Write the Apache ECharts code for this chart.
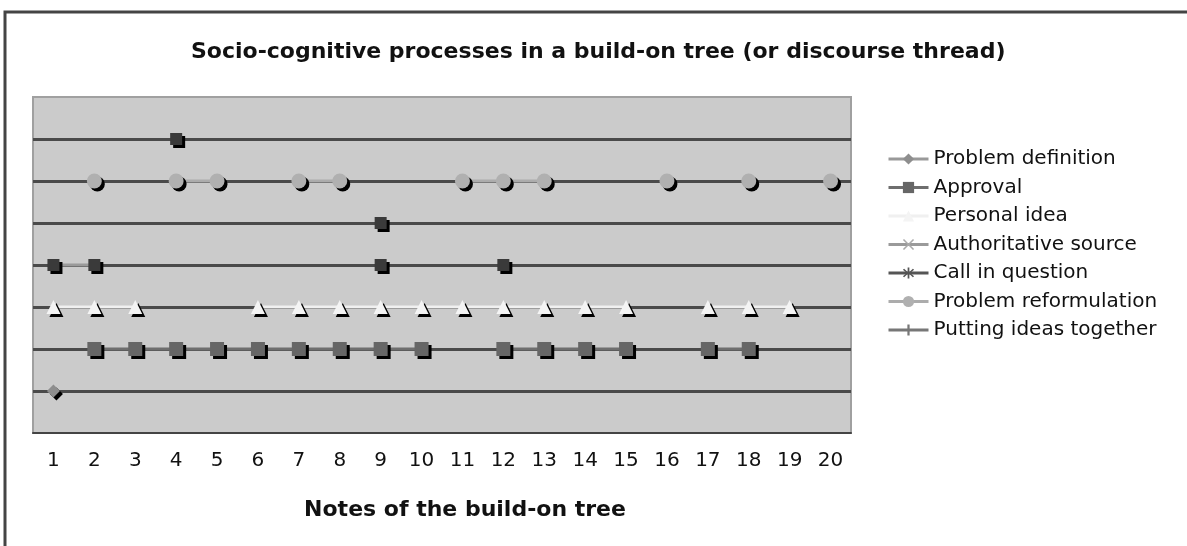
<!DOCTYPE html>
<html>
<head>
<meta charset="utf-8">
<script src="https://cdn.jsdelivr.net/npm/echarts@6/dist/echarts.min.js"></script>
<style>
  html, body { margin: 0; padding: 0; background: #fff; }
</style>
</head>
<body>
<div id="line-chart" style="width: 1187px; height: 546px"></div>
<script>
var notes = ['1', '2', '3', '4', '5', '6', '7', '8', '9', '10', '11', '12', '13', '14', '15', '16', '17', '18', '19', '20'];

// each process sits on its own level, null = not present in that note
var problemDefinition = [1, null, null, null, null, null, null, null, null, null, null, null, null, null, null, null, null, null, null, null];
var approval = [null, 2, 2, 2, 2, 2, 2, 2, 2, 2, null, 2, 2, 2, 2, null, 2, 2, null, null];
var personalIdea = [3, 3, 3, null, null, 3, 3, 3, 3, 3, 3, 3, 3, 3, 3, null, 3, 3, 3, null];
var authoritativeSource = [4, 4, null, null, null, null, null, null, 4, null, null, 4, null, null, null, null, null, null, null, null];
var callInQuestion = [null, null, null, null, null, null, null, null, 5, null, null, null, null, null, null, null, null, null, null, null];
var problemReformulation = [null, 6, null, 6, 6, null, 6, 6, null, null, 6, 6, 6, null, null, 6, null, 6, null, 6];
var puttingIdeasTogether = [null, null, null, 7, null, null, null, null, null, null, null, null, null, null, null, null, null, null, null, null];

var crossPath = 'path://M1,0L5,4L9,0L10,1L6,5L10,9L9,10L5,6L1,10L0,9L4,5L0,1Z';
var starPath = 'path://M4.3,0H5.7V4L8.5,1.2L9.5,2.2L6.4,5L9.5,7.8L8.5,8.8L5.7,6V10H4.3V6L1.5,8.8L0.5,7.8L3.6,5L0.5,2.2L1.5,1.2L4.3,4Z';
var plusPath = 'path://M4,0H6V4H10V6H6V10H4V6H0V4H4Z';

var shadow = { shadowColor: '#000', shadowBlur: 0, shadowOffsetX: 3, shadowOffsetY: 3 };

function darkPoints(arr) {
  return arr.map(function (v) {
    if (v === null) return null;
    return { value: v, symbol: 'rect', symbolSize: 12, itemStyle: Object.assign({ color: '#3a3a3a' }, shadow) };
  });
}

function makeSeries(name, data, symbol, size, color, lineColor) {
  return {
    name: name,
    type: 'line',
    data: data,
    symbol: symbol,
    symbolSize: size,
    showAllSymbol: true,
    connectNulls: false,
    lineStyle: { color: lineColor, width: 3 },
    itemStyle: Object.assign({ color: color }, shadow),
    emphasis: { disabled: true },
    z: 3
  };
}

var myChart = echarts.init(document.getElementById('line-chart'));

var option = {
  backgroundColor: '#fff',
  animation: false,
  title: {
    text: 'Socio-cognitive processes in a build-on tree (or discourse thread)',
    left: 186,
    top: 36,
    textStyle: { fontFamily: 'DejaVu Sans', fontSize: 22, fontWeight: 'bold', color: '#111' }
  },
  legend: {
    orient: 'vertical',
    left: 887,
    top: 149,
    padding: 0,
    itemWidth: 40,
    itemHeight: 14,
    itemGap: 8.5,
    selectedMode: false,
    lineStyle: { width: 3 },
    textStyle: { fontFamily: 'DejaVu Sans', fontSize: 20, color: '#111', lineHeight: 18 }
  },
  grid: {
    left: 33,
    right: 336,
    top: 97,
    bottom: 113,
    show: true,
    backgroundColor: '#cbcbcb',
    borderColor: '#a0a0a0',
    borderWidth: 2
  },
  xAxis: {
    type: 'category',
    data: notes,
    boundaryGap: true,
    name: 'Notes of the build-on tree',
    nameLocation: 'middle',
    nameGap: 66,
    nameTextStyle: { fontFamily: 'DejaVu Sans', fontSize: 22, fontWeight: 'bold', color: '#111', padding: [0, 0, 0, 46] },
    axisLine: { lineStyle: { color: '#444', width: 2 } },
    axisTick: { length: 7, lineStyle: { color: '#444', width: 2 } },
    axisLabel: { fontFamily: 'DejaVu Sans', fontSize: 20, color: '#111', margin: 18 },
    splitLine: { show: false }
  },
  yAxis: {
    type: 'value',
    min: 0,
    max: 8,
    interval: 1,
    axisLine: { show: false },
    axisTick: { show: false },
    axisLabel: { show: false },
    splitLine: {
      show: true,
      lineStyle: {
        width: 3,
        color: ['rgba(0,0,0,0)', '#4a4a4a', '#4a4a4a', '#4a4a4a', '#4a4a4a', '#4a4a4a', '#4a4a4a', '#4a4a4a', 'rgba(0,0,0,0)']
      }
    }
  },
  graphic: [
    {
      type: 'rect',
      shape: { x: 5, y: 12, width: 1200, height: 560 },
      style: { fill: 'none', stroke: '#444', lineWidth: 3 },
      silent: true
    }
  ],
  series: [
    makeSeries('Problem definition', problemDefinition, 'diamond', 13, '#8e8e8e', '#999'),
    makeSeries('Approval', approval, 'rect', 14, '#666', '#6e6e6e'),
    makeSeries('Personal idea', personalIdea, 'triangle', 14, '#f4f4f4', '#f0f0f0'),
    makeSeries('Authoritative source', darkPoints(authoritativeSource), crossPath, 11, '#aaa', '#9a9a9a'),
    makeSeries('Call in question', darkPoints(callInQuestion), starPath, 11, '#555', '#555'),
    makeSeries('Problem reformulation', problemReformulation, 'circle', 15, '#b0b0b0', '#acacac'),
    makeSeries('Putting ideas together', darkPoints(puttingIdeasTogether), plusPath, 11, '#777', '#777')
  ]
};

myChart.setOption(option);
</script>
</body>
</html>
